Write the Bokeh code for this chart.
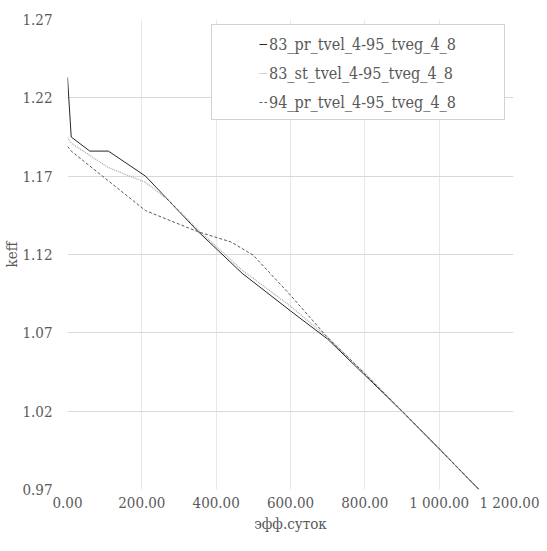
from bokeh.plotting import figure
from bokeh.models import Range1d, FixedTicker, Legend, LegendItem
from bokeh.embed import file_html
from bokeh.resources import INLINE

# ---- data ----
series_names = ["83_pr_tvel_4-95_tveg_4_8", "83_st_tvel_4-95_tveg_4_8", "94_pr_tvel_4-95_tveg_4_8"]

x_83_pr = [0, 10, 60, 110, 210, 350, 470, 600, 700, 800, 900, 1000, 1107]
y_83_pr = [1.233, 1.195, 1.186, 1.186, 1.170, 1.135, 1.108, 1.084, 1.066, 1.043, 1.020, 0.996, 0.970]

x_83_st = [0, 10, 110, 210, 270, 350, 470, 600, 700, 800, 900, 1000, 1107]
y_83_st = [1.195, 1.191, 1.1755, 1.166, 1.155, 1.136, 1.110, 1.087, 1.067, 1.044, 1.020, 0.996, 0.970]

x_94_pr = [0, 10, 210, 350, 440, 500, 600, 700, 800, 900, 1000, 1107]
y_94_pr = [1.189, 1.186, 1.148, 1.1346, 1.128, 1.1195, 1.094, 1.067, 1.044, 1.020, 0.996, 0.970]

x_ticks = [0, 200, 400, 600, 800, 1000, 1200]
x_tick_labels = ["0.00", "200.00", "400.00", "600.00", "800.00", "1 000.00", "1 200.00"]
y_ticks = [0.97, 1.02, 1.07, 1.12, 1.17, 1.22, 1.27]
y_tick_labels = ["0.97", "1.02", "1.07", "1.12", "1.17", "1.22", "1.27"]
x_title = "эфф.суток"
y_title = "keff"

FONT = "DejaVu Serif Condensed"
TXT = "#595959"

p = figure(width=539, height=535, output_backend="svg", toolbar_location=None,
           x_range=Range1d(x_ticks[0], x_ticks[-1]), y_range=Range1d(y_ticks[0], y_ticks[-1]),
           min_border_left=67, min_border_right=26, min_border_top=19, min_border_bottom=40)
p.outline_line_color = None
p.background_fill_color = "white"
p.border_fill_color = "white"

for ax in (p.xaxis[0], p.yaxis[0]):
    ax.axis_line_color = None
    ax.major_tick_line_color = None
    ax.minor_tick_line_color = None
    ax.major_tick_out = 0
    ax.major_tick_in = 0
    ax.major_label_text_font = FONT
    ax.major_label_text_font_size = "15px"
    ax.major_label_text_color = TXT
    ax.axis_label_text_font = FONT
    ax.axis_label_text_font_size = "15px"
    ax.axis_label_text_color = TXT
    ax.axis_label_text_font_style = "normal"

p.xaxis.ticker = FixedTicker(ticks=x_ticks)
p.xaxis.major_label_overrides = dict(zip(x_ticks, x_tick_labels))
p.yaxis.ticker = FixedTicker(ticks=y_ticks)
p.yaxis.major_label_overrides = dict(zip(y_ticks, y_tick_labels))
p.xaxis.axis_label = x_title
p.yaxis.axis_label = y_title
p.xaxis.major_label_standoff = 4
p.xaxis.axis_label_standoff = 0
p.yaxis.major_label_standoff = 15
p.yaxis.axis_label_standoff = -2

p.xgrid.grid_line_color = "#e8e8e8"
p.ygrid.grid_line_color = "#d9d9d9"

r1 = p.line(x_83_pr, y_83_pr, line_color="#262626", line_width=1)
r2 = p.line(x_83_st, y_83_st, line_color="#a6a6a6", line_width=1.2, line_dash="1 1")
r3 = p.line(x_94_pr, y_94_pr, line_color="#595959", line_width=1, line_dash="3 2")
dummy = p.line(x_83_pr, y_83_pr, line_alpha=0)

# legend frame
box = Legend(items=[LegendItem(label=" ", renderers=[dummy])], location=(144, 369),
             padding=1, glyph_width=1, glyph_height=92, label_height=92, label_width=289,
             label_standoff=0, label_text_alpha=0,
             border_line_color="#a6a6a6", border_line_width=1,
             background_fill_color="white", background_fill_alpha=1)
p.add_layout(box)

leg = Legend(items=[LegendItem(label=n, renderers=[r]) for n, r in zip(series_names, [r1, r2, r3])],
             location=(192, 377), padding=0, spacing=9, label_height=20, glyph_height=20,
             glyph_width=8, label_standoff=2,
             label_text_font=FONT, label_text_font_size="16px", label_text_color=TXT,
             border_line_color=None, background_fill_alpha=0)
p.add_layout(leg)

open("out.html", "w").write(file_html(p, INLINE))
